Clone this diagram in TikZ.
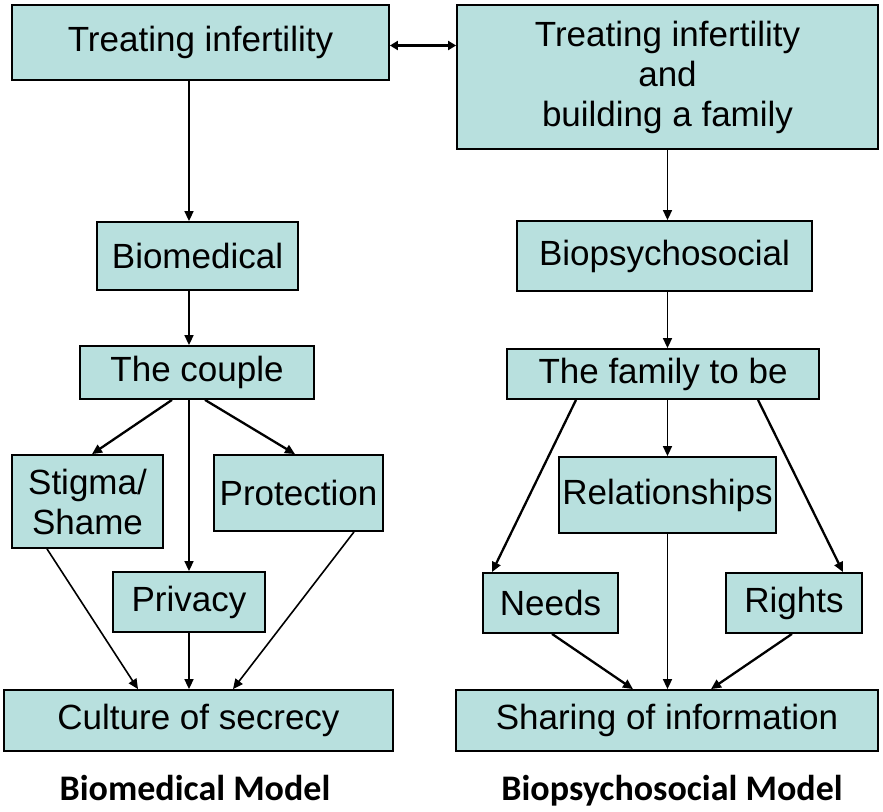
\documentclass[tikz,border=0pt]{standalone}
\usepackage{fontspec}
\setmainfont{Liberation Sans}
\newfontfamily\capfont{Carlito}
\usetikzlibrary{arrows.meta}
\definecolor{boxfill}{RGB}{184,224,222}
\tikzset{
  box/.style={draw=black, line width=1.8pt, fill=boxfill, inner sep=0pt, align=center,
    font=\fontsize{35}{40}\selectfont},
  conn/.style={line width=1.6pt, -{Triangle[length=10pt,width=9pt]}},
  thickconn/.style={line width=2.3pt, -{Triangle[length=10pt,width=9pt]}},
  caption/.style={font=\capfont\bfseries\fontsize{36}{40}\selectfont, anchor=base}
}
\begin{document}
\begin{tikzpicture}[x=1pt,y=-1pt]
\useasboundingbox (0,0) rectangle (883,811);
% boxes
\node[box, minimum width=377pt, minimum height=75pt] (treat) at (200.5,42.5) {Treating infertility};
\node[box, minimum width=421pt, minimum height=144pt] (top2) at (667.5,77) {Treating infertility\\and\\building a family};
\node[box, minimum width=201pt, minimum height=68pt] (biomed) at (197.5,256) {Biomedical};
\node[box, minimum width=295pt, minimum height=70pt] (biopsy) at (664.5,256) {Biopsychosocial};
\node[box, minimum width=234pt, minimum height=53pt] (couple) at (197,372.5) {The couple};
\node[box, minimum width=312pt, minimum height=50pt] (family) at (663,374) {The family to be};
\node[box, minimum width=151pt, minimum height=93pt] (stigma) at (87.5,501.5) {Stigma/\\Shame};
\node[box, minimum width=169pt, minimum height=76pt] (protect) at (298.5,493) {Protection};
\node[box, minimum width=152pt, minimum height=60pt] (privacy) at (189,602) {Privacy};
\node[box, minimum width=217pt, minimum height=76pt] (relat) at (667.5,495) {Relationships};
\node[box, minimum width=135pt, minimum height=60pt] (needs) at (550.5,603) {Needs};
\node[box, minimum width=136pt, minimum height=60pt] (rights) at (794,603) {Rights};
\node[box, minimum width=389pt, minimum height=61pt] (culture) at (198.5,720.5) {Culture of secrecy};
\node[box, minimum width=422pt, minimum height=61pt] (sharing) at (667,720.5) {Sharing of information};
% captions
\node[caption] (cap1) at (195,800) {Biomedical Model};
\node[caption] (cap2) at (672,800) {Biopsychosocial Model};
% double arrow
\draw[line width=2.6pt, {Triangle[length=8pt,width=9pt]}-{Triangle[length=8pt,width=9pt]}] ([yshift=-3]treat.east) -- ([yshift=-3]top2.west |- treat.east);
% left column
\draw[conn] (treat.south -| privacy.north) -- (biomed.north -| privacy.north);
\draw[conn] (biomed.south -| privacy.north) -- (couple.north -| privacy.north);
\draw[conn] (couple.south -| privacy.north) -- (privacy.north);
\draw[thickconn] ([xshift=-25]couple.south) -- ([xshift=4.5]stigma.north);
\draw[thickconn] ([xshift=8]couple.south) -- ([xshift=-3.5]protect.north);
\draw[conn] ([xshift=-40.5]stigma.south) -- ([xshift=-60.5]culture.north);
\draw[conn] (privacy.south) -- (culture.north -| privacy.south);
\draw[conn] ([xshift=55.5]protect.south) -- ([xshift=34.5]culture.north);
% right column
\draw[conn] (top2.south) -- (top2.south |- biopsy.north);
\draw[conn] (biopsy.south -| top2.south) -- (family.north -| top2.south);
\draw[conn] (family.south -| relat.north) -- (relat.north);
\draw[thickconn] ([xshift=-87]family.south) -- ([xshift=-58.5]needs.north);
\draw[thickconn] ([xshift=95]family.south) -- ([xshift=49]rights.north);
\draw[conn] (relat.south) -- (sharing.north -| relat.south);
\draw[thickconn] ([xshift=1.5]needs.south) -- ([xshift=-34]sharing.north);
\draw[thickconn] ([xshift=-2]rights.south) -- ([xshift=44]sharing.north);
\end{tikzpicture}
\end{document}
